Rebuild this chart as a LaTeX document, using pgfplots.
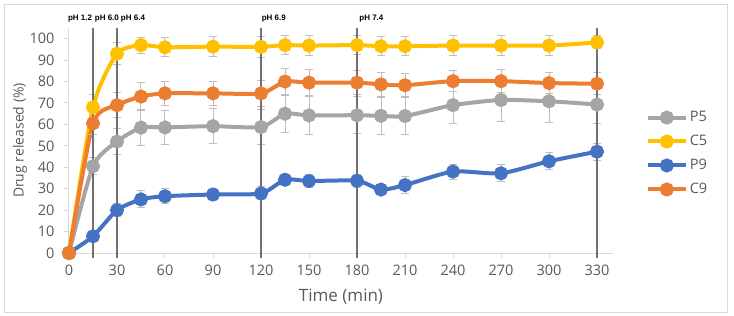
\documentclass[border=0pt]{standalone}
\usepackage{fontspec}
\setmainfont{Open Sans}
\newfontfamily\phfont{Liberation Sans}
\usepackage{pgfplots}
\usepackage{pgfplotstable}
\pgfplotsset{compat=1.18}
\definecolor{cP5}{HTML}{A5A5A5}
\definecolor{cC5}{HTML}{FFC000}
\definecolor{cP9}{HTML}{4472C4}
\definecolor{cC9}{HTML}{ED7D31}
\definecolor{txt}{HTML}{595959}
\definecolor{axl}{HTML}{D9D9D9}
\definecolor{errc}{HTML}{BFBFBF}
\definecolor{vln}{HTML}{707070}

\pgfplotstableread{
x y e
0 0 0
15 40.5 4
30 52 6
45 58.5 8.3
60 58.6 8
90 59.2 8
120 58.8 8
135 65 8.6
150 64.2 8.8
180 64.3 8.5
195 64 8.5
210 63.9 8.5
240 69 8.5
270 71.4 10
300 70.8 10
330 69.3 8.7
}\Pfive
\pgfplotstableread{
x y e
0 0 0
15 68 6
30 93 5
45 97 3.7
60 96 4.5
90 96.3 4.5
120 96.2 5
135 97 4.5
150 96.8 4.5
180 97 4.5
195 96.5 4.5
210 96.5 4.5
240 96.8 4.5
270 96.8 4.5
300 96.8 4.5
330 98.3 3
}\Cfive
\pgfplotstableread{
x y e
0 0 0
15 7.8 2
30 20 3
45 25 4
60 26.5 3.5
90 27.3 3
120 27.8 3
135 34.2 2.5
150 33.6 3
180 33.7 3
195 29.6 2.5
210 31.7 4
240 38 3.5
270 37.2 4
300 42.8 4
330 47.3 4
}\Pnine
\pgfplotstableread{
x y e
0 0 0
15 60.5 5
30 69 6
45 73 6.5
60 74.5 5.6
90 74.5 5.6
120 74.5 6
135 80 6
150 79.5 6
180 79.5 5.5
195 78.7 5.5
210 78.3 5.5
240 80.2 5
270 80.2 5.5
300 79.3 5
330 79 5
}\Cnine

\pgfplotsset{series/.style={#1, line width=4pt, mark=*, mark size=5pt, smooth, tension=0.4,
    error bars/y dir=both, error bars/y explicit,
    error bars/error bar style={errc, line width=1pt},
    error bars/error mark options={rotate=90, errc, mark size=4pt, line width=1pt}}}

\begin{document}
\begin{tikzpicture}
\path (0pt,0pt) rectangle (734pt,316pt);
\draw[axl, line width=0.8pt] (4pt,4pt) rectangle (727pt,312pt);
\begin{axis}[
  at={(69pt,63pt)}, anchor=south west,
  scale only axis, width=544pt, height=225pt,
  xmin=0, xmax=340, ymin=0, ymax=105,
  xtick={0,30,...,330}, ytick={0,10,...,100},
  axis lines*=left,
  axis line style={axl, line width=1pt},
  tick style={axl, line width=1pt}, tick align=outside, major tick length=5pt,
  ticklabel style={font=\fontsize{14.5}{16}\selectfont, text=txt},
  yticklabel style={xshift=-6pt},
  xticklabel style={yshift=-3pt},
  /pgf/number format/assume math mode=true,
  xlabel={Time (min)}, ylabel={Drug released (\%)},
  xlabel style={font=\fontsize{17}{19}\selectfont, text=txt, at={(axis description cs:0.5,-0.196)}, anchor=center},
  ylabel style={font=\fontsize{14}{16}\selectfont, text=txt, at={(axis description cs:-0.09,0.5)}, anchor=center},
  clip=false,
  legend style={at={(axis description cs:1.06,0.442)}, anchor=west, draw=none, fill=none,
    font=\fontsize{14.5}{16}\selectfont, text=txt, row sep=8pt, inner sep=0pt},
  legend cell align=left,
  legend image code/.code={\draw[mark repeat=2,mark phase=2,#1] plot coordinates {(0pt,0pt) (19pt,0pt) (38pt,0pt)};},
]
\addplot[series=cP5] table[x=x,y=y,y error=e]{\Pfive};
\addlegendentry{P5}
\addplot[series=cC5] table[x=x,y=y,y error=e]{\Cfive};
\addlegendentry{C5}
\addplot[series=cP9] table[x=x,y=y,y error=e]{\Pnine};
\addlegendentry{P9}
\addplot[series=cC9] table[x=x,y=y,y error=e]{\Cnine};
\addlegendentry{C9}
\addplot[vln, line width=1.3pt, no marks, forget plot] coordinates {(15,-2.5) (15,105)};
\addplot[vln, line width=1.3pt, no marks, forget plot] coordinates {(30,-2.5) (30,105)};
\addplot[vln, line width=1.3pt, no marks, forget plot] coordinates {(120,-2.5) (120,105)};
\addplot[vln, line width=1.3pt, no marks, forget plot] coordinates {(180,-2.5) (180,105)};
\addplot[vln, line width=1.3pt, no marks, forget plot] coordinates {(330,-2.5) (330,105)};
\begin{scope}[every node/.style={font=\phfont\bfseries\fontsize{8}{9}\selectfont, text=black, anchor=center}]
\node at (axis cs:6.9,109.3) {pH 1.2};
\node at (axis cs:23.7,109.3) {pH 6.0};
\node at (axis cs:40,109.3) {pH 6.4};
\node at (axis cs:128,109.3) {pH 6.9};
\node at (axis cs:189,109.3) {pH 7.4};
\end{scope}
\end{axis}
\end{tikzpicture}
\end{document}
